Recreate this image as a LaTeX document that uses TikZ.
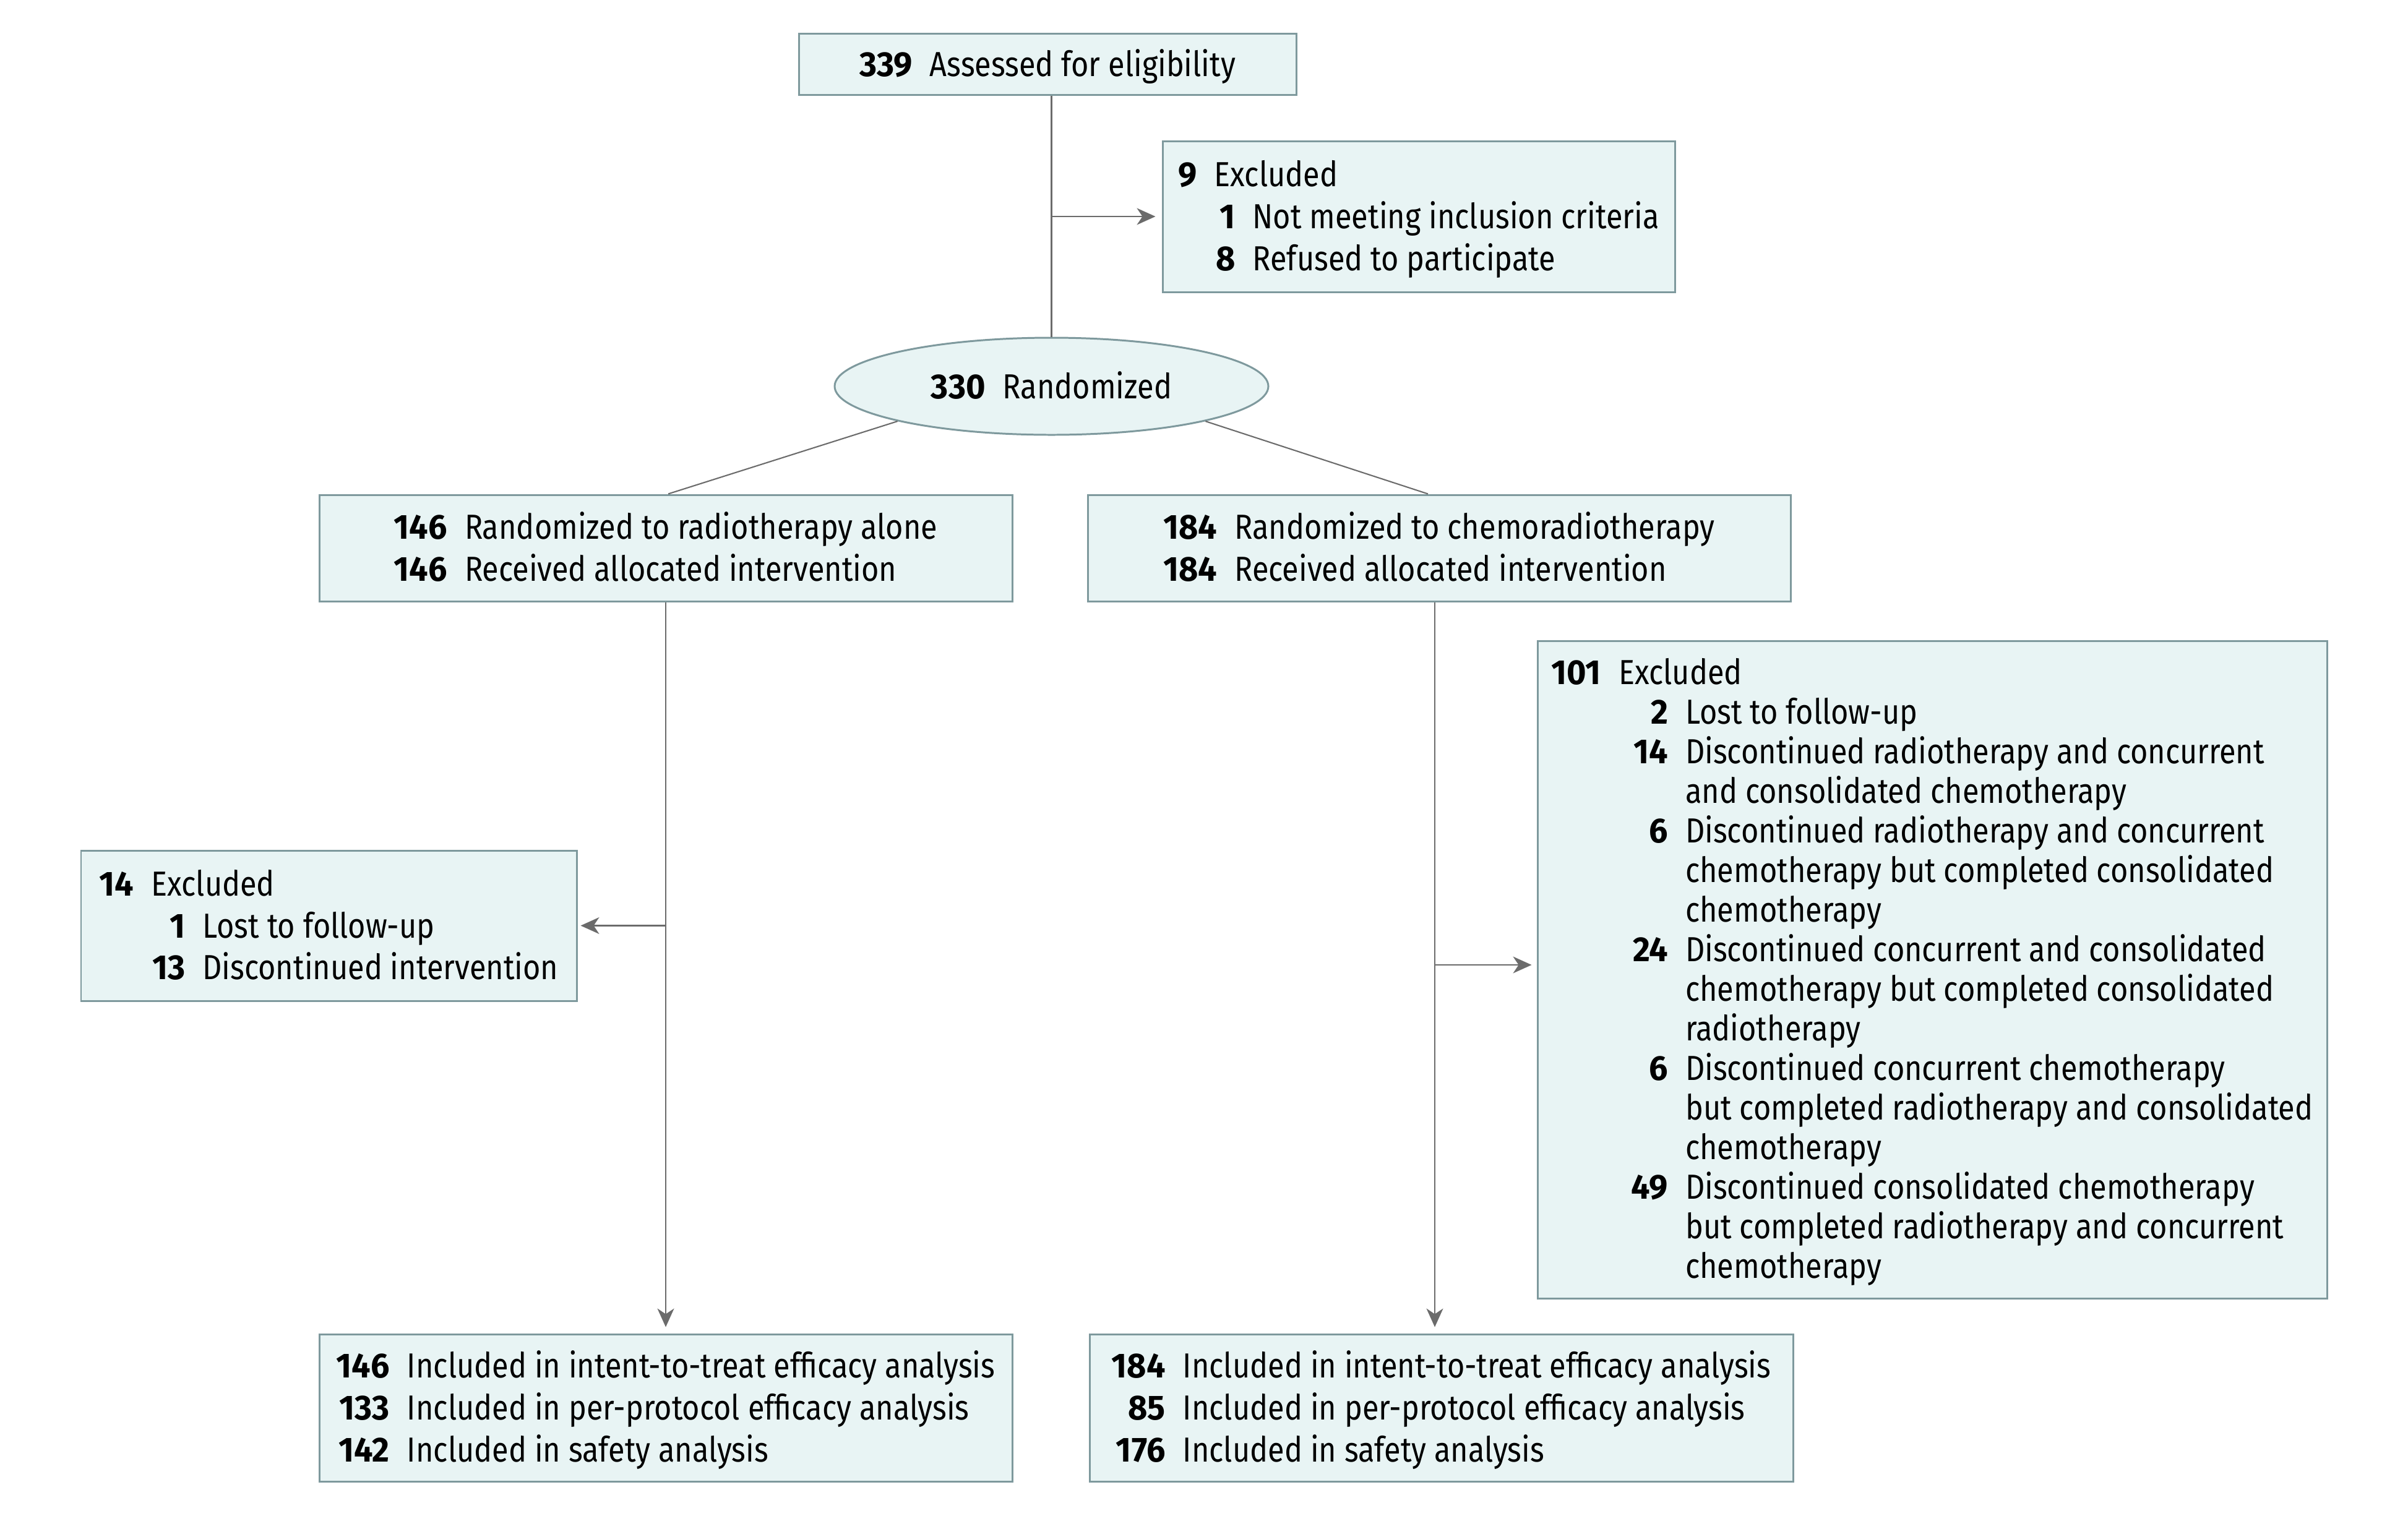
\documentclass[tikz,border=0pt]{standalone}
\usepackage{fontspec}
\setmainfont{Fira Sans}[UprightFeatures={FakeStretch=0.865}, BoldFeatures={FakeStretch=0.96}]
\usepackage{array}
\usepackage{xcolor}
\usetikzlibrary{arrows.meta,shapes.geometric,positioning,calc}
\definecolor{boxfill}{HTML}{E8F4F4}
\definecolor{boxline}{HTML}{7E999D}
\definecolor{linegray}{HTML}{6B6B6B}
\setlength{\tabcolsep}{0pt}
% number columns and gaps
\newcolumntype{N}{>{\bfseries}r}
\newcolumntype{S}[1]{>{\raggedleft\arraybackslash\bfseries}p{#1}}
\newcolumntype{G}{@{\hspace{8pt}}}
% box text, set a little low
\newcommand{\flowtext}[2]{\raisebox{-0.6mm}[\height][\depth]{\begin{tabular}{#1}#2\end{tabular}}}
\tikzset{
  flowbox/.style={draw=boxline, fill=boxfill, line width=0.85pt, inner sep=0pt,
    font=\fontsize{16}{19.3}\selectfont},
  flowline/.style={draw=linegray, line width=0.6pt},
  flowarrow/.style={flowline, -{Stealth[length=3mm,width=2.7mm,inset=0.9mm]}}
}

\begin{document}
\begin{tikzpicture}
  \useasboundingbox (0,0) rectangle (38.92,-24.5);

  \node[flowbox, minimum width=8.04cm, minimum height=0.99cm] (assess) at (16.93,-1.035)
    {\flowtext{NGl}{339 & Assessed for eligibility}};
  \node[flowbox, minimum width=8.28cm, minimum height=2.44cm] (excl) at (22.93,-3.50)
    {\flowtext{NGS{3.4mm}Gl}{
      9 & \multicolumn{2}{l}{Excluded}\\
        & 1 & Not meeting inclusion criteria\\
        & 8 & Refused to participate}};
  \node[flowbox, ellipse, minimum width=7.01cm, minimum height=1.57cm] (rand) at (16.995,-6.245)
    {\flowtext{NGl}{330 & Randomized}};

  % the two arms
  \node[flowbox, minimum width=11.2cm, minimum height=1.72cm] (armRT) at (10.76,-8.86)
    {\flowtext{NGl}{
      146 & Randomized to radiotherapy alone\\
      146 & Received allocated intervention}};
  \node[flowbox, minimum width=11.36cm, minimum height=1.72cm] (armCRT) at (23.26,-8.86)
    {\flowtext{NGl}{
      184 & Randomized to chemoradiotherapy\\
      184 & Received allocated intervention}};

  \node[flowbox, minimum width=8.01cm, minimum height=2.43cm] (exclRT) at (5.315,-14.965)
    {\flowtext{NGS{5.5mm}Gl}{
      14 & \multicolumn{2}{l}{Excluded}\\
         & 1 & Lost to follow-up\\
         & 13 & Discontinued intervention}};
  \node[flowbox, minimum width=12.76cm, minimum height=10.63cm,
    font=\fontsize{16}{18.2}\selectfont] (exclCRT) at (31.23,-15.675)
    {\flowtext{NGS{8mm}Gl}{
      101 & \multicolumn{2}{l}{Excluded}\\
          & 2 & Lost to follow-up\\
          & 14 & Discontinued radiotherapy and concurrent\\
          & & and consolidated chemotherapy\\
          & 6 & Discontinued radiotherapy and concurrent\\
          & & chemotherapy but completed consolidated\\
          & & chemotherapy\\
          & 24 & Discontinued concurrent and consolidated\\
          & & chemotherapy but completed consolidated\\
          & & radiotherapy\\
          & 6 & Discontinued concurrent chemotherapy\\
          & & but completed radiotherapy and consolidated\\
          & & chemotherapy\\
          & 49 & Discontinued consolidated chemotherapy\\
          & & but completed radiotherapy and concurrent\\
          & & chemotherapy}};

  % analysis
  \node[flowbox, minimum width=11.2cm, minimum height=2.38cm] (anaRT) at (10.76,-22.76)
    {\flowtext{NGl}{
      146 & Included in intent-to-treat efficacy analysis\\
      133 & Included in per-protocol efficacy analysis\\
      142 & Included in safety analysis}};
  \node[flowbox, minimum width=11.37cm, minimum height=2.38cm] (anaCRT) at (23.295,-22.76)
    {\flowtext{NGl}{
      184 & Included in intent-to-treat efficacy analysis\\
      85 & Included in per-protocol efficacy analysis\\
      176 & Included in safety analysis}};

  \draw[flowline] (assess.south -| rand.north) -- (rand.north);
  \draw[flowarrow] (rand.north |- excl.west) -- ([xshift=-1mm]excl.west);
  \draw[flowline] (rand.south west) -- ([xshift=0.4mm]armRT.north);
  \draw[flowline] (rand.south east) -- ([xshift=-1.8mm]armCRT.north);

  \coordinate (downCRT) at ([xshift=-0.7mm]armCRT.south);
  \draw[flowarrow] (armRT.south) -- ([yshift=1mm]armRT.south |- anaRT.north);
  \draw[flowarrow] (armRT.south |- exclRT.east) -- ([xshift=0.5mm]exclRT.east);
  \draw[flowarrow] (downCRT) -- ([yshift=1mm]downCRT |- anaCRT.north);
  \draw[flowarrow] ([yshift=0.75mm]downCRT |- exclCRT.west) -- ([xshift=-0.8mm,yshift=0.75mm]exclCRT.west);
\end{tikzpicture}
\end{document}
